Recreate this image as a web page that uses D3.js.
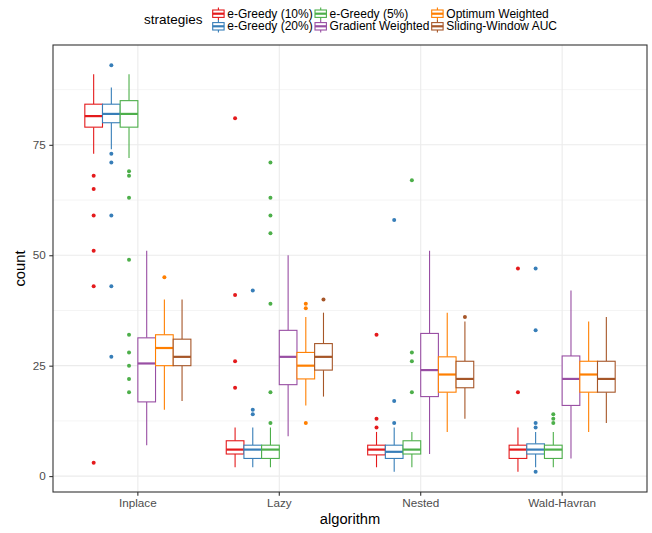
<!DOCTYPE html>
<html>
<head>
<meta charset="utf-8">
<script src="https://cdn.jsdelivr.net/npm/d3@7"></script>
<style>
  body { margin: 0; background: #fff; }
  text { font-family: "Liberation Sans", Arial, sans-serif; }
</style>
</head>
<body>
<svg id="chart" width="652" height="533"></svg>
<script>
const algorithms = ['Inplace', 'Lazy', 'Nested', 'Wald-Havran'];
const strategies = ['e-Greedy (10%)', 'e-Greedy (20%)', 'e-Greedy (5%)',
    'Gradient Weighted', 'Optimum Weighted', 'Sliding-Window AUC'];
const palette = ['#E41A1C', '#377EB8', '#4DAF4A', '#984EA3', '#FF7F00', '#A65628'];

// box stats per algorithm: [lower whisker, q1, median, q3, upper whisker]
const eGreedy10 = [[73, 79, 81.5, 84.2, 91], [2, 5, 6, 8, 11], [2, 4.8, 6, 7, 10], [1, 4, 6, 7, 11]];
const eGreedy20 = [[74, 80, 82, 84.2, 88], [2, 4, 6, 7, 11], [1, 4, 5.5, 7, 11], [2, 5, 6, 7.3, 10]];
const eGreedy5 = [[72, 79, 82, 85, 91], [2, 4, 6, 7, 11], [2, 5, 6, 8, 10], [2, 4, 6, 7, 10]];
const gradientW = [[7, 16.8, 25.5, 31.3, 51], [9, 20.7, 27, 33, 50], [5, 18, 24, 32.3, 51], [4, 16, 22, 27.2, 42]];
const optimumW = [[15, 25, 29, 32, 40], [16, 22, 25, 28, 36], [10, 19, 23, 27, 37], [10, 19, 23, 26, 35]];
const slidingAUC = [[17, 25, 27, 31, 40], [18, 24, 27, 30, 37], [13, 20, 22, 26, 35], [12, 19, 22, 26, 36]];

// outliers per algorithm
const eGreedy10Out = [[68, 65, 59, 51, 43, 3], [81, 41, 26, 20], [32, 13, 11], [47, 19]];
const eGreedy20Out = [[93, 73, 71, 59, 43, 27], [42, 15, 14], [58, 17, 12], [47, 33, 12, 11, 1]];
const eGreedy5Out = [[69, 68, 63, 49, 32, 28, 25, 22, 19], [71, 63, 59, 55, 39, 19, 12], [67, 28, 26, 19], [14, 13, 12]];
const gradientWOut = [[], [], [], []];
const optimumWOut = [[45], [39, 38, 12], [], []];
const slidingAUCOut = [[], [40], [36], []];

const yTicks = [0, 25, 50, 75];
const yMinor = [12.5, 37.5, 62.5, 87.5];

const boxStats = [eGreedy10, eGreedy20, eGreedy5, gradientW, optimumW, slidingAUC];
const boxOut = [eGreedy10Out, eGreedy20Out, eGreedy5Out, gradientWOut, optimumWOut, slidingAUCOut];

const rows = [];
strategies.forEach((s, si) => {
    algorithms.forEach((a, ai) => {
        const st = boxStats[si][ai];
        rows.push({strategy: s, algorithm: a, lo: st[0], q1: st[1], med: st[2], q3: st[3], hi: st[4],
            out: boxOut[si][ai]});
    });
});

const panel = {left: 53, right: 647, top: 45, bottom: 492};
const svg = d3.select('#chart');
svg.append('rect').attr('width', 652).attr('height', 533).attr('fill', '#fff');

// y domain with ggplot-like 5% expansion
const allVals = rows.flatMap(d => [d.lo, d.hi, ...d.out]);
const [vmin, vmax] = d3.extent(allVals);
const pad = (vmax - vmin) * 0.05;
const y = d3.scaleLinear().domain([vmin - pad, vmax + pad]).range([panel.bottom, panel.top]);

const x = d3.scaleBand().domain(algorithms).range([panel.left, panel.right])
    .paddingInner(0).paddingOuter(0.1);
const xs = d3.scaleBand().domain(strategies)
    .range([x.bandwidth() * 0.125, x.bandwidth() * 0.875]).padding(0);
const color = d3.scaleOrdinal().domain(strategies).range(palette);

// grid
const grid = svg.append('g');
grid.selectAll('.minor').data(yMinor).join('line')
    .attr('x1', panel.left).attr('x2', panel.right)
    .attr('y1', d => y(d)).attr('y2', d => y(d))
    .attr('stroke', '#EBEBEB').attr('stroke-width', 0.55);
grid.selectAll('.major').data(yTicks).join('line')
    .attr('x1', panel.left).attr('x2', panel.right)
    .attr('y1', d => y(d)).attr('y2', d => y(d))
    .attr('stroke', '#EBEBEB').attr('stroke-width', 1.1);
grid.selectAll('.vmajor').data(algorithms).join('line')
    .attr('x1', d => x(d) + x.bandwidth() / 2).attr('x2', d => x(d) + x.bandwidth() / 2)
    .attr('y1', panel.top).attr('y2', panel.bottom)
    .attr('stroke', '#EBEBEB').attr('stroke-width', 1.1);

// boxes
const bw = xs.bandwidth();
const boxes = svg.append('g').selectAll('g').data(rows).join('g')
    .attr('transform', d => `translate(${x(d.algorithm) + xs(d.strategy)},0)`);

boxes.append('line')
    .attr('x1', bw / 2).attr('x2', bw / 2)
    .attr('y1', d => y(d.hi)).attr('y2', d => y(d.q3))
    .attr('stroke', d => color(d.strategy)).attr('stroke-width', 1.1);
boxes.append('line')
    .attr('x1', bw / 2).attr('x2', bw / 2)
    .attr('y1', d => y(d.q1)).attr('y2', d => y(d.lo))
    .attr('stroke', d => color(d.strategy)).attr('stroke-width', 1.1);
boxes.append('rect')
    .attr('x', 0).attr('width', bw)
    .attr('y', d => y(d.q3)).attr('height', d => y(d.q1) - y(d.q3))
    .attr('fill', '#fff').attr('stroke', d => color(d.strategy)).attr('stroke-width', 1.1);
boxes.append('line')
    .attr('x1', 0).attr('x2', bw)
    .attr('y1', d => y(d.med)).attr('y2', d => y(d.med))
    .attr('stroke', d => color(d.strategy)).attr('stroke-width', 2.2);
boxes.selectAll('circle').data(d => d.out.map(v => ({v, strategy: d.strategy}))).join('circle')
    .attr('cx', bw / 2).attr('cy', d => y(d.v)).attr('r', 2)
    .attr('fill', d => color(d.strategy));

// panel border
svg.append('rect')
    .attr('x', panel.left).attr('y', panel.top)
    .attr('width', panel.right - panel.left).attr('height', panel.bottom - panel.top)
    .attr('fill', 'none').attr('stroke', '#333').attr('stroke-width', 1.1);

// axes
const yAxis = svg.append('g').attr('transform', `translate(${panel.left},0)`)
    .call(d3.axisLeft(y).tickValues(yTicks).tickSize(3.7).tickPadding(3.5));
const xAxis = svg.append('g').attr('transform', `translate(0,${panel.bottom})`)
    .call(d3.axisBottom(x).tickSize(3.7).tickSizeOuter(0));
[yAxis, xAxis].forEach(g => {
    g.select('.domain').remove();
    g.selectAll('.tick line').attr('stroke', '#333').attr('stroke-width', 1.1);
    g.selectAll('.tick text').attr('fill', '#4D4D4D').style('font-size', '11.7px')
        .style('font-family', '"Liberation Sans", Arial, sans-serif');
});
xAxis.selectAll('.tick text').attr('y', 14.5).attr('dy', 0);

svg.append('text').attr('x', (panel.left + panel.right) / 2).attr('y', 524)
    .attr('text-anchor', 'middle').style('font-size', '14.7px').text('algorithm');
svg.append('text')
    .attr('transform', `translate(25,${(panel.top + panel.bottom) / 2}) rotate(-90)`)
    .attr('text-anchor', 'middle').style('font-size', '14.7px').text('count');

// legend
const legend = svg.append('g');
legend.append('text').attr('x', 144).attr('y', 24).style('font-size', '13.5px').text('strategies');
const legendColX = [212.7, 315, 431.7];
const legendRowY = [13.7, 26.3];
const keys = legend.selectAll('.key').data(strategies).join('g')
    .attr('transform', (d, i) => `translate(${legendColX[Math.floor(i / 2)]},${legendRowY[i % 2]})`);
keys.append('line').attr('x1', 5.7).attr('x2', 5.7).attr('y1', -6.3).attr('y2', 6.3)
    .attr('stroke', d => color(d)).attr('stroke-width', 1.1);
keys.append('rect').attr('x', 0).attr('y', -3.7).attr('width', 11.4).attr('height', 7.4)
    .attr('fill', '#fff').attr('stroke', d => color(d)).attr('stroke-width', 1.1);
keys.append('line').attr('x1', 0).attr('x2', 11.4).attr('y1', 0).attr('y2', 0)
    .attr('stroke', d => color(d)).attr('stroke-width', 2.2);
keys.append('text').attr('x', 14.6).attr('y', 4).style('font-size', '12px').text(d => d);
</script>
</body>
</html>
